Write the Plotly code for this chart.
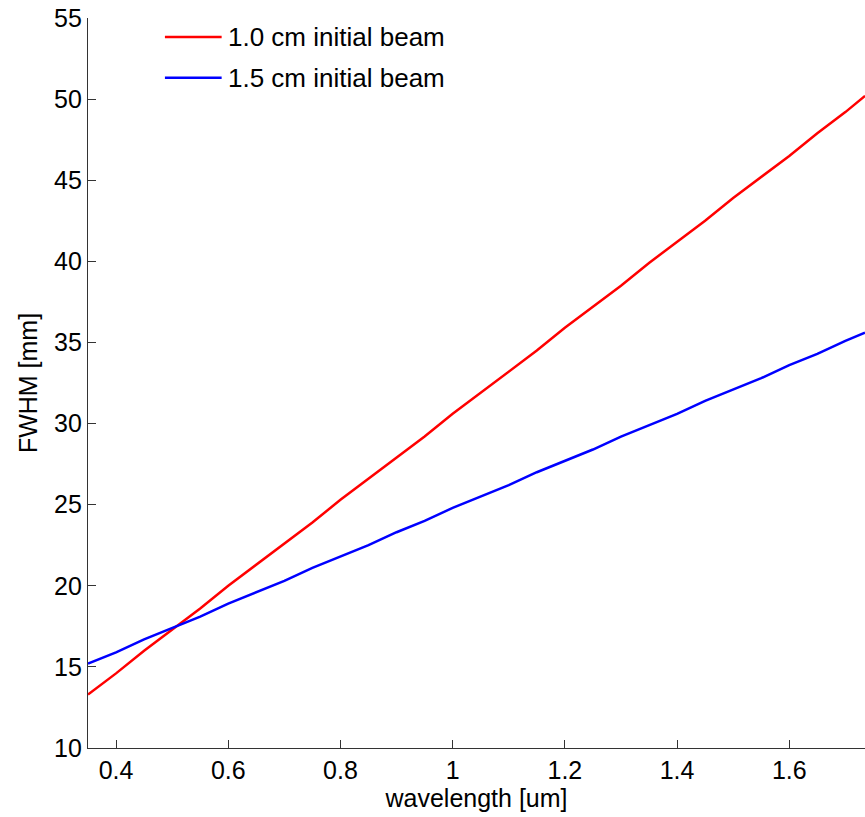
import plotly.graph_objects as go

# wavelength samples [um]
wavelength = [0.35, 0.40, 0.45, 0.50, 0.55, 0.60, 0.65, 0.70, 0.75, 0.80,
              0.85, 0.90, 0.95, 1.00, 1.05, 1.10, 1.15, 1.20, 1.25, 1.30,
              1.35, 1.40, 1.45, 1.50, 1.55, 1.60, 1.65, 1.70, 1.735]

# FWHM [mm] for each initial beam size
fwhm_10cm = [13.3, 14.6, 16.0, 17.3, 18.6, 20.0, 21.3, 22.6, 23.9, 25.3,
             26.6, 27.9, 29.2, 30.6, 31.9, 33.2, 34.5, 35.9, 37.2, 38.5,
             39.9, 41.2, 42.5, 43.9, 45.2, 46.5, 47.9, 49.2, 50.2]
fwhm_15cm = [15.2, 15.9, 16.7, 17.4, 18.1, 18.9, 19.6, 20.3, 21.1, 21.8,
             22.5, 23.3, 24.0, 24.8, 25.5, 26.2, 27.0, 27.7, 28.4, 29.2,
             29.9, 30.6, 31.4, 32.1, 32.8, 33.6, 34.3, 35.1, 35.6]

series_names = ["1.0 cm initial beam", "1.5 cm initial beam"]
series_colors = ["#ff0000", "#0000ff"]

x_ticks = [0.4, 0.6, 0.8, 1.0, 1.2, 1.4, 1.6]
x_ticklabels = ["0.4", "0.6", "0.8", "1", "1.2", "1.4", "1.6"]
y_ticks = [10, 15, 20, 25, 30, 35, 40, 45, 50, 55]

FONT = "Liberation Sans, Arial, Helvetica, sans-serif"
FS = 25

fig = go.Figure()
for ys, name, color in zip([fwhm_10cm, fwhm_15cm], series_names, series_colors):
    fig.add_trace(go.Scatter(x=wavelength, y=ys, mode="lines", name=name,
                             line=dict(color=color, width=2.5),
                             showlegend=False))

# legend drawn as line samples plus text labels
legend_rows = [0.974, 0.918]
for name, color, yy in zip(series_names, series_colors, legend_rows):
    fig.add_shape(type="line", xref="paper", yref="paper",
                  x0=0.099, x1=0.172, y0=yy, y1=yy,
                  line=dict(color=color, width=2.5))
    fig.add_annotation(xref="paper", yref="paper", x=0.178, y=yy,
                       text=name, showarrow=False, xanchor="left",
                       yanchor="middle",
                       font=dict(family=FONT, size=26, color="#000"))

axis_common = dict(showline=True, linecolor="#333", linewidth=1.2,
                   ticks="inside", ticklen=8, tickcolor="#333", tickwidth=1.2,
                   showgrid=False, zeroline=False, mirror=False,
                   tickfont=dict(family=FONT, size=FS, color="#000"))

fig.update_layout(
    width=865, height=817,
    margin=dict(l=88, r=0, t=18, b=69),
    plot_bgcolor="white", paper_bgcolor="white",
    xaxis=dict(range=[0.35, 1.735], tickvals=x_ticks, ticktext=x_ticklabels,
               title=dict(text="wavelength [um]", standoff=6,
                          font=dict(family=FONT, size=FS, color="#000")),
               **axis_common),
    yaxis=dict(range=[10, 55], tickvals=y_ticks,
               title=dict(text="FWHM [mm]", standoff=9,
                          font=dict(family=FONT, size=FS, color="#000")),
               **axis_common),
)

fig.write_html("out.html")
